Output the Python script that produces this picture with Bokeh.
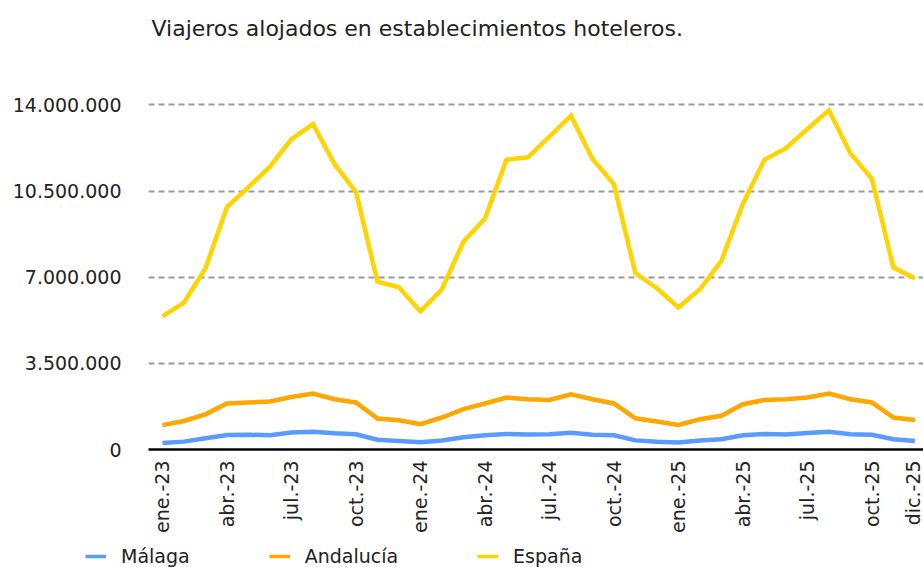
import math
from bokeh.plotting import figure
from bokeh.layouts import column
from bokeh.models import FixedTicker, Legend, LegendItem, Range1d, Label
from bokeh.embed import file_html
from bokeh.resources import INLINE

months = ["ene.-23", "feb.-23", "mar.-23", "abr.-23", "may.-23", "jun.-23",
          "jul.-23", "ago.-23", "sep.-23", "oct.-23", "nov.-23", "dic.-23",
          "ene.-24", "feb.-24", "mar.-24", "abr.-24", "may.-24", "jun.-24",
          "jul.-24", "ago.-24", "sep.-24", "oct.-24", "nov.-24", "dic.-24",
          "ene.-25", "feb.-25", "mar.-25", "abr.-25", "may.-25", "jun.-25",
          "jul.-25", "ago.-25", "sep.-25", "oct.-25", "nov.-25", "dic.-25"]

malaga = [260000, 320000, 460000, 590000, 600000, 580000, 690000, 720000, 660000, 620000, 400000, 350000,
          290000, 370000, 500000, 580000, 630000, 610000, 620000, 680000, 600000, 580000, 370000, 310000,
          280000, 370000, 420000, 580000, 630000, 610000, 670000, 720000, 620000, 600000, 420000, 350000]

andalucia = [990000, 1160000, 1430000, 1870000, 1910000, 1950000, 2130000, 2270000, 2040000, 1910000, 1260000, 1190000,
             1030000, 1300000, 1640000, 1870000, 2110000, 2040000, 2010000, 2240000, 2040000, 1870000, 1270000, 1140000,
             1000000, 1230000, 1370000, 1840000, 2010000, 2040000, 2110000, 2270000, 2040000, 1910000, 1300000, 1200000]

espana = [5410000, 5970000, 7360000, 9850000, 10660000, 11490000, 12610000, 13220000, 11600000, 10460000, 6820000, 6590000,
          5610000, 6510000, 8440000, 9380000, 11770000, 11870000, 12710000, 13560000, 11810000, 10770000, 7160000, 6550000,
          5770000, 6510000, 7660000, 9990000, 11770000, 12240000, 13020000, 13780000, 12030000, 11000000, 7390000, 6960000]

series_names = ["Málaga", "Andalucía", "España"]
series_colors = ["#5B9BFF", "#FFA600", "#FFD400"]

x_tick_idx = [0, 3, 6, 9, 12, 15, 18, 21, 24, 27, 30, 33, 35]
y_ticks = [0, 3500000, 7000000, 10500000, 14000000]
y_tick_labels = ["0", "3.500.000", "7.000.000", "10.500.000", "14.000.000"]

title_text = "Viajeros alojados en establecimientos hoteleros."
FONT = "DejaVu Sans"
TEXT_COLOR = "#222222"
W = 923
NAN = float("nan")


def bare(fig):
    fig.axis.visible = False
    fig.grid.visible = False
    fig.outline_line_color = None
    fig.background_fill_color = "white"
    fig.border_fill_color = "white"


# ---- title strip ----
pt = figure(width=W, height=60, output_backend="svg", toolbar_location=None,
            x_range=Range1d(0, W), y_range=Range1d(60, 0), frame_align=False,
            min_border=0, min_border_left=0, min_border_right=0, min_border_top=0, min_border_bottom=0)
bare(pt)
pt.add_layout(Label(x=151, y=28, text=title_text, text_font=FONT, text_font_size="22px",
                    text_color=TEXT_COLOR, text_baseline="alphabetic", text_align="left"))

# ---- main chart ----
x = list(range(len(months)))
p = figure(width=W, height=475, output_backend="svg", toolbar_location=None,
           x_range=Range1d(-0.65, 35.4), y_range=Range1d(0, 14300000), frame_align=False,
           min_border_left=148, min_border_right=0, min_border_top=37, min_border_bottom=84)
p.outline_line_color = None
p.background_fill_color = "white"
p.border_fill_color = "white"

for vals, col in zip([malaga, andalucia, espana], series_colors):
    p.line(x, vals, line_color=col, line_width=4.5, line_join="miter")

p.xaxis.ticker = FixedTicker(ticks=x_tick_idx)
p.xaxis.major_label_overrides = {i: months[i] for i in x_tick_idx}
p.xaxis.major_label_orientation = math.pi / 2
p.xaxis.axis_line_color = "black"
p.xaxis.axis_line_width = 2.5
p.xaxis.major_tick_line_color = None
p.xaxis.minor_tick_line_color = None
p.xaxis.major_label_standoff = 5
p.xaxis.major_label_text_font = FONT
p.xaxis.major_label_text_font_size = "19px"
p.xaxis.major_label_text_color = TEXT_COLOR

p.yaxis.ticker = FixedTicker(ticks=y_ticks)
p.yaxis.major_label_overrides = {t: l for t, l in zip(y_ticks, y_tick_labels)}
p.yaxis.axis_line_color = None
p.yaxis.major_tick_line_color = None
p.yaxis.minor_tick_line_color = None
p.yaxis.major_label_standoff = 21
p.yaxis.major_label_text_font = FONT
p.yaxis.major_label_text_font_size = "19px"
p.yaxis.major_label_text_color = TEXT_COLOR

p.xgrid.grid_line_color = None
p.ygrid.ticker = FixedTicker(ticks=y_ticks[1:])
p.ygrid.grid_line_color = "#999999"
p.ygrid.grid_line_width = 2
p.ygrid.grid_line_dash = "6 4"

# ---- legend strip ----
pl = figure(width=W, height=32, output_backend="svg", toolbar_location=None,
            x_range=Range1d(0, W), y_range=Range1d(0, 32), frame_align=False,
            min_border=0, min_border_left=0, min_border_right=0, min_border_top=0, min_border_bottom=0)
bare(pl)
leg_renderers = [pl.line([NAN], [NAN], line_color=c, line_width=3.5) for c in series_colors]
legend = Legend(items=[LegendItem(label=n, renderers=[r]) for n, r in zip(series_names, leg_renderers)],
                orientation="horizontal", location=(85, 0),
                padding=0, margin=0, spacing=79, glyph_width=21, glyph_height=22,
                label_standoff=15, border_line_color=None, background_fill_alpha=0,
                label_text_font=FONT, label_text_font_size="19px", label_text_color=TEXT_COLOR)
pl.add_layout(legend)

layout = column(pt, p, pl, spacing=0)
open("out.html", "w").write(file_html(layout, INLINE))
